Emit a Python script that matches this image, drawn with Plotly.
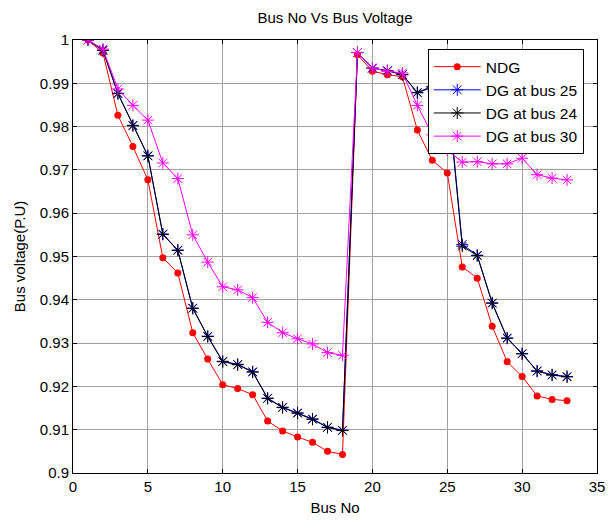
import plotly.graph_objects as go

bus = list(range(1, 34))

ndg = [1.0, 0.997, 0.9826, 0.9754, 0.9677, 0.9497, 0.9462, 0.9324, 0.9263, 0.9204,
       0.9195, 0.9181, 0.9120, 0.9097, 0.9083, 0.9071, 0.9050, 0.9043,
       0.9966, 0.9928, 0.9920, 0.9915, 0.9792, 0.9722, 0.9693,
       0.9476, 0.9450, 0.9339, 0.9257, 0.9223, 0.9178, 0.9170, 0.9167]

dg25 = [1.0, 0.9976, 0.9877, 0.9803, 0.9733, 0.9552, 0.9515, 0.9381, 0.9316, 0.9258,
        0.9251, 0.9234, 0.9173, 0.9152, 0.9139, 0.9125, 0.9106, 0.9099,
        0.9971, 0.9935, 0.9929, 0.9920, 0.9879, 0.9893, 0.9895,
        0.9528, 0.9503, 0.9393, 0.9312, 0.9276, 0.9236, 0.9227, 0.9223]

dg24 = [1.0, 0.9976, 0.9876, 0.9802, 0.9732, 0.9551, 0.9514, 0.9380, 0.9315, 0.9257,
        0.9250, 0.9233, 0.9172, 0.9151, 0.9138, 0.9124, 0.9105, 0.9098,
        0.9971, 0.9935, 0.9929, 0.9920, 0.9878, 0.9891, 0.9885,
        0.9524, 0.9502, 0.9392, 0.9311, 0.9275, 0.9235, 0.9226, 0.9222]

dg30 = [1.0, 0.9979, 0.9887, 0.9849, 0.9815, 0.9716, 0.9680, 0.9550, 0.9487, 0.9430,
        0.9423, 0.9405, 0.9348, 0.9324, 0.9310, 0.9298, 0.9278, 0.9272,
        0.9971, 0.9935, 0.9928, 0.9924, 0.9849, 0.9781, 0.9746,
        0.9718, 0.9719, 0.9714, 0.9714, 0.9727, 0.9689, 0.9681, 0.9677]

FONT = "Liberation Sans, Arial, sans-serif"

fig = go.Figure()
fig.add_trace(go.Scatter(x=bus, y=ndg, name="NDG", mode="lines+markers",
                         line=dict(color="#ff0000", width=1),
                         marker=dict(symbol="circle", size=7, color="#ff0000")))
fig.add_trace(go.Scatter(x=bus, y=dg25, name="DG at bus 25", mode="lines+markers",
                         line=dict(color="#0000ff", width=1),
                         marker=dict(symbol="asterisk-open", size=10,
                                     line=dict(color="#0000ff", width=1))))
fig.add_trace(go.Scatter(x=bus, y=dg24, name="DG at bus 24", mode="lines+markers",
                         line=dict(color="#000000", width=1),
                         marker=dict(symbol="asterisk-open", size=10,
                                     line=dict(color="#000000", width=1))))
fig.add_trace(go.Scatter(x=bus, y=dg30, name="DG at bus 30", mode="lines+markers",
                         line=dict(color="#ff00ff", width=1),
                         marker=dict(symbol="asterisk-open", size=10,
                                     line=dict(color="#ff00ff", width=1))))

axis_common = dict(showline=True, linecolor="black", linewidth=1, mirror="ticks",
                   ticks="inside", ticklen=4, tickcolor="black",
                   showgrid=True, gridcolor="#a0a0a0", gridwidth=1,
                   zeroline=False, automargin=False,
                   tickfont=dict(family=FONT, size=15, color="black"))

fig.update_layout(
    width=615, height=522,
    margin=dict(l=73, r=18, t=40, b=49),
    paper_bgcolor="white", plot_bgcolor="white",
    title=dict(text="Bus No Vs Bus Voltage", x=0.5, xref="paper", xanchor="center",
               y=1 - 18 / 522, yanchor="middle",
               font=dict(family=FONT, size=15, color="black")),
    xaxis=dict(range=[0, 35], dtick=5, tick0=0,
               title=dict(text="Bus No", font=dict(family=FONT, size=15, color="black"),
                          standoff=8),
               **axis_common),
    yaxis=dict(range=[0.9, 1.0], dtick=0.01, tick0=0.9,
               title=dict(text="Bus voltage(P.U)", font=dict(family=FONT, size=15, color="black"),
                          standoff=10),
               **axis_common),
    legend=dict(x=0.677, y=0.979, xanchor="left", yanchor="top",
                bgcolor="white", bordercolor="black", borderwidth=1,
                itemwidth=47, font=dict(family=FONT, size=15.5, color="black"),
                tracegroupgap=0),
    showlegend=True,
)

fig.write_html("out.html")
